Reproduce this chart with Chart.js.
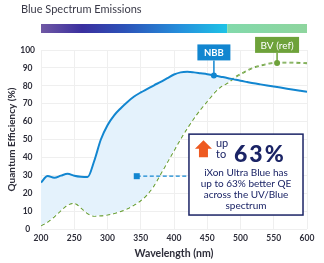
<!DOCTYPE html>
<html>
<head>
<meta charset="utf-8">
<script src="https://cdn.jsdelivr.net/npm/chart.js@4.4.1/dist/chart.umd.min.js"></script>
<style>
  html, body { margin: 0; padding: 0; background: #fff; }
</style>
</head>
<body>
<canvas id="qe-chart" width="324" height="263"></canvas>
<script>
// wavelength (nm) and quantum efficiency (%)
const wavelengths = [200, 210, 220, 230, 240, 250, 260, 270, 280, 290, 300, 310, 320, 330, 340, 350, 360, 370, 380, 390, 400,
  410, 420, 430, 440, 450, 460, 470, 480, 490, 500, 510, 520, 530, 540, 550, 560, 570, 580, 590, 600];
const nbbQE = [26, 29.6, 28.6, 29.8, 30.8, 29.8, 29.2, 29, 38, 50, 58, 63.5, 67.5, 71, 74, 76.3, 78.3, 80.3, 82.2, 84.3, 86.3,
  87.5, 87.8, 87.5, 87, 86.5, 85.8, 85.1, 84.4, 83.6, 82.8, 82.1, 81.4, 80.8, 80.2, 79.6, 79, 78.4, 77.8, 77.2, 76.6];
const bvQE = [2, 4, 7, 10.5, 13.5, 14.5, 12, 8.8, 7.3, 7.5, 8, 8.8, 10, 11.5, 13.5, 16, 19.5, 24.5, 31, 37.5, 44,
  50.5, 56.5, 62, 67, 71.5, 76, 79.5, 81.5, 84.3, 86.5, 88.5, 90.2, 91.3, 92.2, 92.8, 93, 93, 92.9, 92.8, 92.6];

const xTickValues = [200, 250, 300, 350, 400, 450, 500, 550, 600];
const yTickValues = [0, 10, 20, 30, 40, 50, 60, 70, 80, 90, 100];

const chartTitle = "Blue Spectrum Emissions";
const nbbLabel = { text: "NBB", x: 460, y: 85.8 };
const bvLabel = { text: "BV (ref)", x: 555, y: 92.8 };
const visibleEnd = 480; // cyan part of the spectrum bar ends here
const calloutMarker = { x: 344, y: 29.5 };
const calloutHeadline = ["up", "to", "63%"];
const calloutLines = ["iXon Ultra Blue has", "up to 63% better QE", "across the UV/Blue", "spectrum"];

const FONT = "Lato, 'Open Sans', sans-serif";
const NAVY = "#1b2466";
const BLUE = "#1286d0";
const GREEN = "#6ea23a";

// 그림 위에 올라가는 요소들 (제목, 스펙트럼 바, 라벨, 콜아웃)
const overlay = {
  id: "overlay",
  afterDraw(chart) {
    const { ctx } = chart;
    const x = chart.scales.x;
    const y = chart.scales.y;
    ctx.save();

    // title
    ctx.font = "11px " + FONT;
    ctx.fillStyle = "#3a3a48";
    ctx.textAlign = "left";
    ctx.textBaseline = "middle";
    ctx.fillText(chartTitle, 21, 9);

    // spectrum bar
    const bx0 = x.getPixelForValue(200);
    const bxm = x.getPixelForValue(visibleEnd);
    const bx1 = x.getPixelForValue(600);
    const g1 = ctx.createLinearGradient(bx0, 0, bxm, 0);
    g1.addColorStop(0, "#7058a4");
    g1.addColorStop(0.22, "#3a2f9f");
    g1.addColorStop(0.45, "#2c52b8");
    g1.addColorStop(0.75, "#2590dc");
    g1.addColorStop(1, "#1ec3e6");
    ctx.fillStyle = g1;
    ctx.fillRect(bx0, 24, bxm - bx0, 9);
    const g2 = ctx.createLinearGradient(bxm, 0, bx1, 0);
    g2.addColorStop(0, "#82d9ab");
    g2.addColorStop(1, "#8ed59e");
    ctx.fillStyle = g2;
    ctx.fillRect(bxm, 24, bx1 - bxm, 9);

    // series labels
    drawTag(ctx, x.getPixelForValue(nbbLabel.x), y.getPixelForValue(nbbLabel.y), nbbLabel.text, BLUE, 33, 15, "bold 9.5px " + FONT);
    drawTag(ctx, x.getPixelForValue(bvLabel.x), y.getPixelForValue(bvLabel.y), bvLabel.text, GREEN, 44, 10, "10px " + FONT);

    // callout connector
    const mx = x.getPixelForValue(calloutMarker.x);
    const my = y.getPixelForValue(calloutMarker.y);
    ctx.strokeStyle = BLUE;
    ctx.lineWidth = 1.3;
    ctx.setLineDash([4, 2.5]);
    ctx.beginPath();
    ctx.moveTo(mx, my);
    ctx.lineTo(x.getPixelForValue(419), my);
    ctx.stroke();
    ctx.setLineDash([]);
    ctx.fillStyle = BLUE;
    ctx.fillRect(mx - 3, my - 3, 6, 6);

    // callout box
    const left = x.getPixelForValue(422.5);
    const right = x.getPixelForValue(594);
    const top = y.getPixelForValue(53);
    const bottom = y.getPixelForValue(7.8);
    ctx.fillStyle = "#fff";
    ctx.fillRect(left, top, right - left, bottom - top);
    ctx.strokeStyle = NAVY;
    ctx.lineWidth = 1.5;
    ctx.strokeRect(left, top, right - left, bottom - top);

    // arrow
    ctx.fillStyle = "#ee5a21";
    ctx.beginPath();
    ctx.moveTo(left + 14.5, top + 6);
    ctx.lineTo(left + 23, top + 14.5);
    ctx.lineTo(left + 19, top + 14.5);
    ctx.lineTo(left + 19, top + 23);
    ctx.lineTo(left + 10, top + 23);
    ctx.lineTo(left + 10, top + 14.5);
    ctx.lineTo(left + 6, top + 14.5);
    ctx.closePath();
    ctx.fill();

    ctx.fillStyle = NAVY;
    ctx.textAlign = "left";
    ctx.textBaseline = "middle";
    ctx.font = "11px " + FONT;
    ctx.fillText(calloutHeadline[0], left + 27, top + 9.5);
    ctx.fillText(calloutHeadline[1], left + 27, top + 20.5);
    ctx.font = "900 23px " + FONT;
    ctx.letterSpacing = "2px";
    ctx.textBaseline = "alphabetic";
    ctx.fillText(calloutHeadline[2], left + 45, top + 27.5);
    ctx.letterSpacing = "0px";

    ctx.font = "10px " + FONT;
    ctx.textAlign = "center";
    ctx.textBaseline = "middle";
    const cx = (left + right) / 2;
    calloutLines.forEach((line, i) => {
      ctx.fillText(line, cx, top + 39 + i * 10.8);
    });

    ctx.restore();
  },
};

function drawTag(ctx, px, py, text, color, w, gap, font) {
  const h = 16;
  const boxBottom = py - gap;
  ctx.strokeStyle = color;
  ctx.lineWidth = 1.5;
  ctx.beginPath();
  ctx.moveTo(px, py);
  ctx.lineTo(px, boxBottom);
  ctx.stroke();
  ctx.fillStyle = color;
  ctx.beginPath();
  ctx.arc(px, py, 3, 0, 2 * Math.PI);
  ctx.fill();
  ctx.fillRect(px - w / 2, boxBottom - h, w, h);
  ctx.fillStyle = "#fff";
  ctx.font = font;
  ctx.textAlign = "center";
  ctx.textBaseline = "middle";
  ctx.fillText(text, px, boxBottom - h / 2 + 0.5);
}

const ctx = document.getElementById("qe-chart").getContext("2d");

new Chart(ctx, {
  type: "line",
  data: {
    labels: wavelengths,
    datasets: [
      {
        label: "NBB",
        data: wavelengths.map((w, i) => ({ x: w, y: nbbQE[i] })),
        borderColor: BLUE,
        borderWidth: 2,
        pointRadius: 0,
        cubicInterpolationMode: "monotone",
        fill: { target: 1, above: "#e4f2fc", below: "rgba(0,0,0,0)" },
      },
      {
        label: "BV (ref)",
        data: wavelengths.map((w, i) => ({ x: w, y: bvQE[i] })),
        borderColor: GREEN,
        borderWidth: 1.8,
        borderDash: [4, 3],
        pointRadius: 0,
        cubicInterpolationMode: "monotone",
        fill: false,
      },
    ],
  },
  options: {
    responsive: false,
    animation: false,
    layout: { padding: { top: 50, right: 17, left: 0, bottom: 0 } },
    plugins: {
      legend: { display: false },
      tooltip: { enabled: false },
    },
    scales: {
      x: {
        type: "linear",
        min: 200,
        max: 600,
        afterBuildTicks: (scale) => {
          scale.ticks = xTickValues.map((v) => ({ value: v }));
        },
        afterFit: (scale) => {
          scale.height = 34;
        },
        ticks: {
          color: "#2e2e3a",
          font: { family: FONT, size: 8.5, weight: "bold" },
          padding: 4,
          maxRotation: 0,
        },
        grid: { color: "#efefef", drawTicks: false },
        border: { display: false },
        title: {
          display: true,
          text: "Wavelength (nm)",
          color: "#2e2e3a",
          font: { family: FONT, size: 10.5, weight: "bold" },
          padding: { top: 0, bottom: 3 },
        },
      },
      y: {
        min: 0,
        max: 100,
        afterBuildTicks: (scale) => {
          scale.ticks = yTickValues.map((v) => ({ value: v }));
        },
        afterFit: (scale) => {
          scale.width = 41;
        },
        ticks: {
          color: "#2e2e3a",
          font: { family: FONT, size: 8.5, weight: "bold" },
          padding: 6,
          crossAlign: "center",
        },
        grid: { color: "#efefef", drawTicks: false },
        border: { display: false },
        title: {
          display: true,
          text: "Quantum Efficiency (%)",
          color: "#2e2e3a",
          font: { family: FONT, size: 10, weight: "bold" },
          padding: { top: 6, bottom: 0 },
        },
      },
    },
  },
  plugins: [overlay],
});
</script>
</body>
</html>
